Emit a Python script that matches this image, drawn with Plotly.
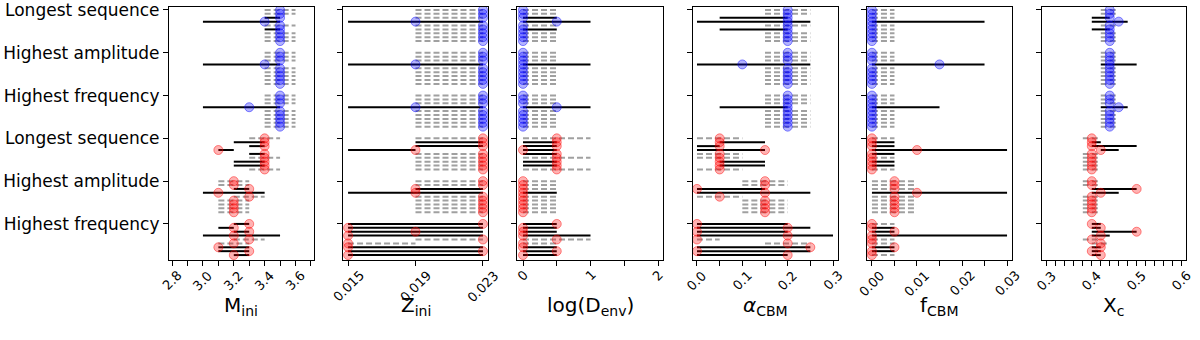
import plotly.graph_objects as go

# 6 groups of 9 models, top three groups blue, bottom three red
group_names = ["Longest sequence", "Highest amplitude", "Highest frequency",
               "Longest sequence", "Highest amplitude", "Highest frequency"]
n_rows = 9

# ---- M_ini ----
M_best = [3.5, 3.5, 3.5, 3.4, 3.5, 3.5, 3.5, 3.5, 3.5,
          3.5, 3.5, 3.5, 3.4, 3.5, 3.5, 3.5, 3.5, 3.5,
          3.5, 3.5, 3.5, 3.3, 3.5, 3.5, 3.5, 3.5, 3.5,
          3.4, 3.4, 3.4, 3.1, 3.4, 3.4, 3.4, 3.4, 3.4,
          3.2, 3.2, 3.3, 3.1, 3.3, 3.2, 3.2, 3.2, 3.2,
          3.3, 3.2, 3.3, 3.2, 3.3, 3.2, 3.1, 3.3, 3.2]
M_lo = [3.4, 3.4, 3.4, 3.0, 3.4, 3.4, 3.4, 3.4, 3.4,
        3.4, 3.4, 3.4, 3.0, 3.4, 3.4, 3.4, 3.4, 3.4,
        3.4, 3.4, 3.4, 3.0, 3.4, 3.4, 3.4, 3.4, 3.4,
        3.3, 3.2, 3.3, 3.1, 3.3, 3.3, 3.2, 3.2, 3.3,
        3.1, 3.1, 3.2, 3.0, 3.2, 3.1, 3.1, 3.1, 3.1,
        3.2, 3.1, 3.2, 3.0, 3.2, 3.1, 3.1, 3.1, 3.2]
M_hi = [3.6, 3.6, 3.5, 3.5, 3.6, 3.5, 3.6, 3.6, 3.6,
        3.6, 3.6, 3.6, 3.5, 3.6, 3.6, 3.6, 3.6, 3.6,
        3.6, 3.6, 3.6, 3.5, 3.6, 3.6, 3.6, 3.6, 3.6,
        3.5, 3.4, 3.4, 3.2, 3.4, 3.5, 3.4, 3.4, 3.5,
        3.3, 3.3, 3.3, 3.4, 3.4, 3.3, 3.3, 3.3, 3.3,
        3.3, 3.2, 3.3, 3.5, 3.4, 3.3, 3.3, 3.3, 3.3]
M_solid = [0, 0, 1, 1, 0, 1, 0, 0, 0,
           0, 0, 0, 1, 0, 0, 0, 0, 0,
           0, 0, 0, 1, 0, 0, 0, 0, 0,
           0, 1, 1, 1, 1, 0, 1, 1, 0,
           0, 0, 1, 1, 0, 0, 0, 0, 0,
           1, 1, 1, 1, 0, 0, 1, 1, 1]

# ---- Z_ini ----
Z_best = [0.023, 0.023, 0.023, 0.019, 0.023, 0.023, 0.023, 0.023, 0.023,
          0.023, 0.023, 0.023, 0.019, 0.023, 0.023, 0.023, 0.023, 0.023,
          0.023, 0.023, 0.023, 0.019, 0.023, 0.023, 0.023, 0.023, 0.023,
          0.023, 0.023, 0.023, 0.019, 0.023, 0.023, 0.023, 0.023, 0.023,
          0.023, 0.023, 0.019, 0.019, 0.023, 0.023, 0.023, 0.023, 0.023,
          0.023, 0.015, 0.019, 0.015, 0.023, 0.015, 0.015, 0.023, 0.015]
Z_lo = [0.019, 0.019, 0.019, 0.015, 0.019, 0.019, 0.019, 0.019, 0.019,
        0.019, 0.019, 0.019, 0.015, 0.019, 0.019, 0.019, 0.019, 0.019,
        0.019, 0.019, 0.019, 0.015, 0.019, 0.019, 0.019, 0.019, 0.019,
        0.019, 0.019, 0.019, 0.015, 0.019, 0.019, 0.019, 0.019, 0.019,
        0.019, 0.019, 0.019, 0.015, 0.019, 0.019, 0.019, 0.019, 0.019,
        0.015, 0.015, 0.015, 0.015, 0.019, 0.015, 0.015, 0.015, 0.015]
Z_hi = [0.023, 0.023, 0.023, 0.023, 0.023, 0.023, 0.023, 0.023, 0.023,
        0.023, 0.023, 0.023, 0.023, 0.023, 0.023, 0.023, 0.023, 0.023,
        0.023, 0.023, 0.023, 0.023, 0.023, 0.023, 0.023, 0.023, 0.023,
        0.023, 0.023, 0.023, 0.019, 0.023, 0.023, 0.023, 0.023, 0.023,
        0.023, 0.023, 0.023, 0.023, 0.023, 0.023, 0.023, 0.023, 0.023,
        0.023, 0.023, 0.023, 0.023, 0.023, 0.019, 0.023, 0.023, 0.023]
Z_solid = [0, 0, 0, 1, 0, 0, 0, 0, 0,
           0, 0, 0, 1, 0, 0, 0, 0, 0,
           0, 0, 0, 1, 0, 0, 0, 0, 0,
           0, 1, 1, 1, 0, 0, 0, 0, 0,
           0, 0, 1, 1, 0, 0, 0, 0, 0,
           1, 1, 1, 1, 0, 0, 1, 1, 1]

# ---- log(D_env) ----
D_best = [0, 0, 0, 0.5, 0, 0, 0, 0, 0,
          0, 0, 0, 0, 0, 0, 0, 0, 0,
          0, 0, 0, 0.5, 0, 0, 0, 0, 0,
          0.5, 0.5, 0.5, 0, 0.5, 0.5, 0.5, 0.5, 0.5,
          0, 0, 0, 0, 0, 0, 0, 0, 0,
          0.5, 0, 0, 0, 0.5, 0, 0, 0.5, 0]
D_lo = [0] * 54
D_hi = [0.5, 0.5, 0.5, 1, 0.5, 0.5, 0.5, 0.5, 0.5,
        0.5, 0.5, 0.5, 1, 0.5, 0.5, 0.5, 0.5, 0.5,
        0.5, 0.5, 0.5, 1, 0.5, 0.5, 0.5, 0.5, 0.5,
        1, 0.5, 0.5, 0.5, 0.5, 1, 0.5, 0.5, 1,
        0.5, 0.5, 0.5, 0.5, 0.5, 0.5, 0.5, 0.5, 0.5,
        0.5, 0.5, 0.5, 1, 1, 0.5, 0.5, 0.5, 0.5]
D_solid = [0, 0, 1, 1, 0, 1, 0, 0, 0,
           0, 0, 0, 1, 0, 0, 0, 0, 0,
           0, 0, 0, 1, 0, 0, 0, 0, 0,
           0, 1, 1, 1, 1, 0, 1, 1, 0,
           0, 0, 0, 1, 0, 0, 0, 0, 0,
           1, 1, 1, 1, 0, 0, 1, 1, 1]

# ---- alpha_CBM ----
A_best = [0.2, 0.2, 0.2, 0.2, 0.2, 0.2, 0.2, 0.2, 0.2,
          0.2, 0.2, 0.2, 0.1, 0.2, 0.2, 0.2, 0.2, 0.2,
          0.2, 0.2, 0.2, 0.2, 0.2, 0.2, 0.2, 0.2, 0.2,
          0.05, 0.05, 0.05, 0.15, 0.05, 0.05, 0.05, 0.05, 0.05,
          0.15, 0.15, 0, 0.15, 0.05, 0.15, 0.15, 0.15, 0.15,
          0, 0.2, 0, 0.2, 0, 0.2, 0.25, 0, 0.2]
A_lo = [0.15, 0.15, 0.05, 0, 0.15, 0.05, 0.15, 0.15, 0.15,
        0.15, 0.15, 0.15, 0, 0.15, 0.15, 0.15, 0.15, 0.15,
        0.15, 0.15, 0.15, 0.05, 0.15, 0.15, 0.15, 0.15, 0.15,
        0, 0.05, 0, 0, 0, 0, 0.05, 0.05, 0,
        0.1, 0.1, 0, 0, 0, 0.1, 0.1, 0.1, 0.1,
        0, 0, 0, 0, 0, 0.15, 0, 0, 0]
A_hi = [0.25, 0.25, 0.2, 0.25, 0.25, 0.2, 0.25, 0.25, 0.25,
        0.25, 0.25, 0.25, 0.25, 0.25, 0.25, 0.25, 0.25, 0.25,
        0.25, 0.25, 0.25, 0.2, 0.25, 0.25, 0.25, 0.25, 0.25,
        0.1, 0.15, 0.05, 0.15, 0.1, 0.1, 0.15, 0.15, 0.1,
        0.2, 0.2, 0.15, 0.25, 0.1, 0.2, 0.2, 0.2, 0.2,
        0.2, 0.25, 0.2, 0.3, 0.05, 0.25, 0.25, 0.25, 0.2]
A_solid = [0, 0, 1, 1, 0, 1, 0, 0, 0,
           0, 0, 0, 1, 0, 0, 0, 0, 0,
           0, 0, 0, 1, 0, 0, 0, 0, 0,
           0, 1, 1, 1, 0, 0, 1, 1, 0,
           0, 0, 1, 1, 0, 0, 0, 0, 0,
           1, 1, 1, 1, 0, 0, 1, 1, 1]

# ---- f_CBM ----
F_best = [0, 0, 0, 0, 0, 0, 0, 0, 0,
          0, 0, 0, 0.015, 0, 0, 0, 0, 0,
          0, 0, 0, 0, 0, 0, 0, 0, 0,
          0, 0, 0, 0.01, 0, 0, 0, 0, 0,
          0.005, 0.005, 0.005, 0.01, 0.005, 0.005, 0.005, 0.005, 0.005,
          0, 0, 0.005, 0, 0, 0, 0.005, 0, 0]
F_lo = [0] * 54
F_hi = [0.005, 0.005, 0.005, 0.025, 0.005, 0.005, 0.005, 0.005, 0.005,
        0.005, 0.005, 0.005, 0.025, 0.005, 0.005, 0.005, 0.005, 0.005,
        0.005, 0.005, 0.005, 0.015, 0.005, 0.005, 0.005, 0.005, 0.005,
        0.005, 0.005, 0.005, 0.03, 0.005, 0.005, 0.005, 0.005, 0.005,
        0.01, 0.01, 0.01, 0.03, 0.01, 0.01, 0.01, 0.01, 0.01,
        0.005, 0.005, 0.005, 0.03, 0.005, 0.005, 0.005, 0.005, 0.005]
F_solid = [0, 0, 0, 1, 0, 0, 0, 0, 0,
           0, 0, 0, 1, 0, 0, 0, 0, 0,
           0, 0, 0, 1, 0, 0, 0, 0, 0,
           0, 1, 1, 1, 1, 0, 1, 1, 0,
           0, 0, 0, 1, 0, 0, 0, 0, 0,
           0, 1, 1, 1, 0, 0, 1, 1, 0]

# ---- X_c ----
X_best = [0.44, 0.44, 0.44, 0.46, 0.44, 0.44, 0.44, 0.44, 0.44,
          0.44, 0.44, 0.44, 0.44, 0.44, 0.44, 0.44, 0.44, 0.44,
          0.44, 0.44, 0.44, 0.46, 0.44, 0.44, 0.44, 0.44, 0.44,
          0.40, 0.40, 0.40, 0.42, 0.40, 0.40, 0.40, 0.40, 0.40,
          0.40, 0.40, 0.50, 0.42, 0.40, 0.40, 0.40, 0.40, 0.40,
          0.40, 0.42, 0.50, 0.42, 0.40, 0.42, 0.42, 0.40, 0.42]
X_lo = [0.42, 0.42, 0.40, 0.40, 0.42, 0.40, 0.42, 0.42, 0.42,
        0.42, 0.42, 0.42, 0.42, 0.42, 0.42, 0.42, 0.42, 0.42,
        0.42, 0.42, 0.42, 0.42, 0.42, 0.42, 0.42, 0.42, 0.42,
        0.38, 0.40, 0.40, 0.42, 0.38, 0.38, 0.38, 0.38, 0.38,
        0.38, 0.38, 0.40, 0.40, 0.38, 0.38, 0.38, 0.38, 0.38,
        0.40, 0.40, 0.40, 0.40, 0.38, 0.40, 0.40, 0.40, 0.40]
X_hi = [0.46, 0.46, 0.44, 0.48, 0.46, 0.44, 0.46, 0.46, 0.46,
        0.46, 0.46, 0.46, 0.50, 0.46, 0.46, 0.46, 0.46, 0.46,
        0.46, 0.46, 0.46, 0.48, 0.46, 0.46, 0.46, 0.46, 0.46,
        0.42, 0.42, 0.50, 0.46, 0.42, 0.42, 0.42, 0.42, 0.42,
        0.42, 0.42, 0.50, 0.46, 0.42, 0.42, 0.42, 0.42, 0.42,
        0.42, 0.42, 0.50, 0.44, 0.42, 0.44, 0.42, 0.42, 0.42]
X_solid = [0, 0, 1, 1, 0, 1, 0, 0, 0,
           0, 0, 0, 1, 0, 0, 0, 0, 0,
           0, 0, 0, 1, 0, 0, 0, 0, 0,
           0, 1, 1, 1, 0, 0, 0, 0, 0,
           0, 0, 1, 1, 0, 0, 0, 0, 0,
           1, 1, 1, 1, 0, 0, 1, 1, 1]

# axis setup for each panel: title, range, tick positions, labelled ticks
panels = [
    dict(title="M<sub>ini</sub>", data=(M_best, M_lo, M_hi, M_solid),
         rng=[2.78, 3.72], ticks=[2.8, 2.9, 3.0, 3.1, 3.2, 3.3, 3.4, 3.5, 3.6, 3.7],
         labels=[2.8, 3.0, 3.2, 3.4, 3.6], fmt="{:.1f}"),
    dict(title="Z<sub>ini</sub>", data=(Z_best, Z_lo, Z_hi, Z_solid),
         rng=[0.0147, 0.0233], ticks=[0.015, 0.019, 0.023],
         labels=[0.015, 0.019, 0.023], fmt="{:.3f}"),
    dict(title="log(D<sub>env</sub>)", data=(D_best, D_lo, D_hi, D_solid),
         rng=[-0.089, 2.074], ticks=[0, 0.5, 1, 1.5, 2],
         labels=[0, 1, 2], fmt="{:.0f}"),
    dict(title="<i>α</i><sub>CBM</sub>", data=(A_best, A_lo, A_hi, A_solid),
         rng=[-0.0088, 0.311], ticks=[0, 0.05, 0.1, 0.15, 0.2, 0.25, 0.3],
         labels=[0.0, 0.1, 0.2, 0.3], fmt="{:.1f}"),
    dict(title="f<sub>CBM</sub>", data=(F_best, F_lo, F_hi, F_solid),
         rng=[-0.0011, 0.0311], ticks=[0, 0.005, 0.01, 0.015, 0.02, 0.025, 0.03],
         labels=[0.0, 0.01, 0.02, 0.03], fmt="{:.2f}"),
    dict(title="X<sub>c</sub>", data=(X_best, X_lo, X_hi, X_solid),
         rng=[0.289, 0.61], ticks=[round(0.30 + 0.02 * k, 2) for k in range(16)],
         labels=[0.3, 0.4, 0.5, 0.6], fmt="{:.1f}"),
]

W, H = 1200, 340
lefts = [169, 343, 517, 693, 867, 1042]
rights = [314, 488, 663, 838, 1012, 1186]
FONT = "DejaVu Sans"

# row position: 11 units per group (9 rows + gap)
ypos = [11 * g + r for g in range(6) for r in range(n_rows)]
blue_rows = [i for i in range(54) if i < 27]
red_rows = [i for i in range(54) if i >= 27]

fig = go.Figure()
annotations = []
for k, p in enumerate(panels):
    ax = "" if k == 0 else str(k + 1)
    best, lo, hi, solid = p["data"]
    for style in (0, 1):
        xs, ys = [], []
        for i in range(54):
            if solid[i] == style:
                xs += [lo[i], hi[i], None]
                ys += [ypos[i], ypos[i], None]
        if style == 1:
            line = dict(color="black", width=2)
        else:
            line = dict(color="rgba(128,128,128,0.75)", width=2, dash="6px,3px")
        fig.add_trace(go.Scatter(x=xs, y=ys, mode="lines", line=line,
                                 xaxis="x" + ax, yaxis="y" + ax,
                                 showlegend=False, hoverinfo="skip"))
    for rows, col in ((blue_rows, "0,0,255"), (red_rows, "255,0,0")):
        fig.add_trace(go.Scatter(
            x=[best[i] for i in rows], y=[ypos[i] for i in rows], mode="markers",
            marker=dict(size=9, color="rgba(%s,0.3)" % col,
                        line=dict(color="rgba(%s,0.45)" % col, width=1)),
            xaxis="x" + ax, yaxis="y" + ax, showlegend=False))

    d0 = lefts[k] / W
    d1 = rights[k] / W
    fig.update_layout(**{
        "xaxis" + ax: dict(domain=[d0, d1], range=p["rng"], tickvals=p["ticks"],
                           showticklabels=False, ticks="outside", ticklen=5,
                           tickcolor="black", showline=True, mirror=True,
                           linecolor="black", linewidth=1.2, showgrid=False,
                           zeroline=False, anchor="y" + ax),
        "yaxis" + ax: dict(range=[64.27, -0.76], tickvals=[0, 11, 22, 33, 44, 55],
                           ticktext=group_names, showticklabels=(k == 0),
                           ticklabeloverflow="allow",
                           ticks="outside", ticklen=5, tickcolor="black",
                           showline=True, mirror=True, linecolor="black",
                           linewidth=1.2, showgrid=False, zeroline=False,
                           anchor="x" + ax, tickfont=dict(size=17, color="black")),
    })
    for v in p["labels"]:
        annotations.append(dict(x=v, y=0, xref="x" + ax, yref="paper",
                                text=p["fmt"].format(v), showarrow=False,
                                textangle=-45, xanchor="center", yanchor="top",
                                yshift=-5, font=dict(size=13, color="black")))
    annotations.append(dict(x=(d0 + d1) / 2, y=-0.18, xref="paper", yref="paper",
                            text=p["title"], showarrow=False, xanchor="center",
                            yanchor="middle", font=dict(size=20, color="black")))

fig.update_layout(width=W, height=H, margin=dict(l=0, r=0, t=3, b=80),
                  paper_bgcolor="white", plot_bgcolor="white",
                  font=dict(family=FONT, color="black"),
                  annotations=annotations)
# page has a default body margin; drop it so the figure sits at the window origin
fig.write_html("out.html", config={"displayModeBar": False},
               post_script="document.body.style.margin='0';")
